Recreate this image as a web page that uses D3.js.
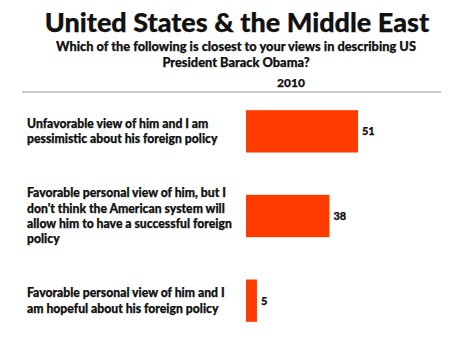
<!DOCTYPE html>
<html>
<head>
<meta charset="utf-8">
<script src="https://cdn.jsdelivr.net/npm/d3@7"></script>
<style>
  html, body { margin: 0; padding: 0; background: #fff; }
  svg { display: block; }
  text { font-family: Lato, "Open Sans", sans-serif; font-weight: 900; fill: #111; stroke: #111; stroke-width: 0.25px; }
</style>
</head>
<body>
<svg id="chart" width="456" height="344"></svg>
<script>
// Survey answers (multi-line labels) and percentages for 2010
const categories = [
  ["Unfavorable view of him and I am", "pessimistic about his foreign policy"],
  ["Favorable personal view of him, but I", "don't think the American system will", "allow him to have a successful foreign", "policy"],
  ["Favorable personal view of him and I", "am hopeful about his foreign policy"]
];
const values2010 = [51, 38, 5];
const seriesName = "2010";
const title = "United States & the Middle East";
const subtitle = ["Which of the following is closest to your views in describing US", "President Barack Obama?"];

const svg = d3.select("#chart");

// Header
svg.append("text").attr("x", 237).attr("y", 32)
  .attr("text-anchor", "middle").style("font-size", "27px").text(title);
svg.selectAll("text.sub").data(subtitle).join("text").attr("class", "sub")
  .attr("x", 236).attr("y", (d, i) => 50.5 + i * 16.5)
  .attr("text-anchor", "middle").style("font-size", "12.8px").text(d => d);
svg.append("text").attr("x", 291).attr("y", 87)
  .attr("text-anchor", "middle").style("font-size", "12px").text(seriesName);
svg.append("line").attr("x1", 22).attr("x2", 441).attr("y1", 92).attr("y2", 92)
  .attr("stroke", "#999").attr("stroke-width", 1);

// Scales
const x = d3.scaleLinear().domain([0, 100]).range([246, 246 + 219.6]);
const y = d3.scaleBand().domain(d3.range(values2010.length))
  .range([89, 343]).paddingInner(0.5).paddingOuter(0.25);

// Bars
svg.selectAll("rect.bar").data(values2010).join("rect").attr("class", "bar")
  .attr("x", x(0)).attr("y", (d, i) => y(i))
  .attr("width", d => x(d) - x(0)).attr("height", y.bandwidth())
  .attr("fill", "#ff3c00");

// Value labels
svg.selectAll("text.val").data(values2010).join("text").attr("class", "val")
  .attr("x", d => x(d) + 4).attr("y", (d, i) => y(i) + y.bandwidth() / 2)
  .attr("dy", "0.35em").style("font-size", "11px").text(d => d);

// Category labels, vertically centred on each bar
const lineH = 15.3;
categories.forEach((lines, i) => {
  const cy = y(i) + y.bandwidth() / 2;
  const t = svg.append("text").attr("class", "cat").style("font-size", "12.2px");
  lines.forEach((ln, j) => {
    t.append("tspan").attr("x", 27)
      .attr("y", cy + (j - (lines.length - 1) / 2) * lineH)
      .attr("dy", "0.35em").text(ln);
  });
});
</script>
</body>
</html>
